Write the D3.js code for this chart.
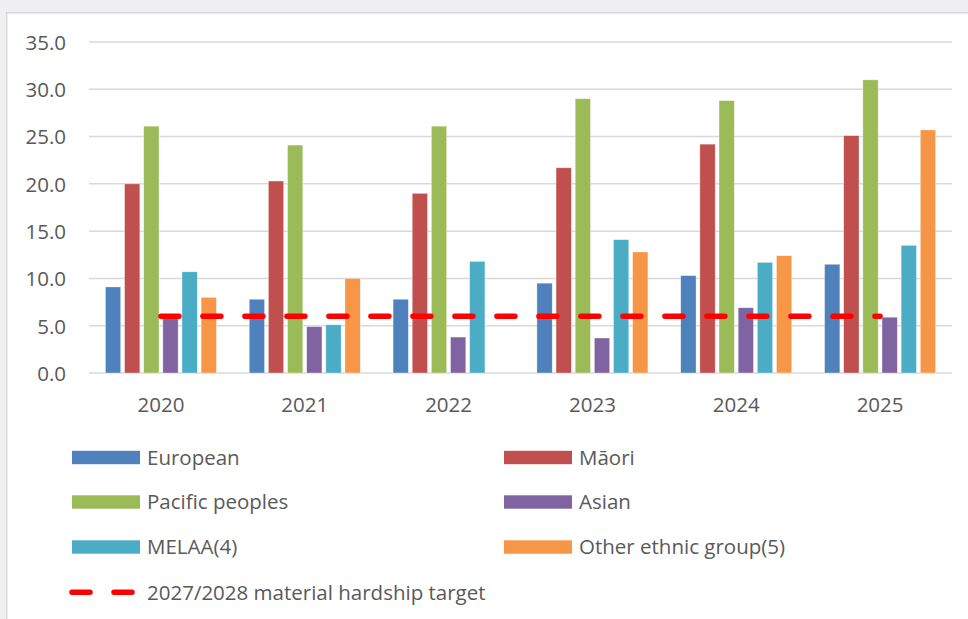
<!DOCTYPE html>
<html>
<head>
<meta charset="utf-8">
<script src="https://cdn.jsdelivr.net/npm/d3@7"></script>
<style>
  html, body { margin: 0; padding: 0; background: #f0f0f2; }
  svg { display: block; font-family: "Open Sans", sans-serif; }
</style>
</head>
<body>
<svg id="chart" width="968" height="619"></svg>
<script>
// Material hardship rate by ethnic group, 2020–2025
const years = ["2020", "2021", "2022", "2023", "2024", "2025"];
const seriesNames = ["European", "Māori", "Pacific peoples", "Asian", "MELAA(4)", "Other ethnic group(5)"];
const european = [9.1, 7.8, 7.8, 9.5, 10.3, 11.5];
const maori    = [20.0, 20.3, 19.0, 21.7, 24.2, 25.1];
const pacific  = [26.1, 24.1, 26.1, 29.0, 28.8, 31.0];
const asian    = [5.9, 4.9, 3.8, 3.7, 6.9, 5.9];
const melaa    = [10.7, 5.1, 11.8, 14.1, 11.7, 13.5];
const other    = [8.0, 10.0, null, 12.8, 12.4, 25.7];
const targetValue = 6.0;
const targetLabel = "2027/2028 material hardship target";
const yTicks = [0, 5, 10, 15, 20, 25, 30, 35];

const seriesValues = [european, maori, pacific, asian, melaa, other];
const colors = ["#4f81bd", "#c0504d", "#9bbb59", "#8064a2", "#4bacc6", "#f79646"];
const textColor = "#595959";
const gridColor = "#d9d9d9";

const svg = d3.select("#chart");

// white chart panel
svg.append("rect")
  .attr("x", 6.75).attr("y", 12.75)
  .attr("width", 1000).attr("height", 700)
  .attr("fill", "#ffffff")
  .attr("stroke", "#d9d9d9").attr("stroke-width", 1.5);

const plot = { left: 89, right: 952, top: 42, bottom: 373 };

const y = d3.scaleLinear().domain([0, 35]).range([plot.bottom, plot.top]);
const x0 = d3.scaleBand().domain(years).range([plot.left, plot.right])
  .paddingInner(0.228).paddingOuter(0.114);
const x1 = d3.scaleBand().domain(d3.range(seriesNames.length))
  .range([0, x0.bandwidth()]).paddingInner(0.2).paddingOuter(0);

// gridlines
svg.append("g").selectAll("line").data(yTicks).join("line")
  .attr("x1", plot.left).attr("x2", plot.right)
  .attr("y1", d => y(d)).attr("y2", d => y(d))
  .attr("stroke", gridColor).attr("stroke-width", 1.5);

// y axis labels
const yAxis = d3.axisLeft(y).tickValues(yTicks).tickFormat(d3.format(".1f")).tickSize(0).tickPadding(0);
const yg = svg.append("g").attr("transform", "translate(66,0)").call(yAxis);
yg.select(".domain").remove();
yg.selectAll("text")
  .attr("fill", textColor).attr("font-size", "20.5px")
  .attr("font-family", "Open Sans, sans-serif").attr("dy", "0.36em");

// x axis labels
const xAxis = d3.axisBottom(x0).tickSize(0).tickPadding(0);
const xg = svg.append("g").attr("transform", `translate(0,${plot.bottom})`).call(xAxis);
xg.select(".domain").remove();
xg.selectAll("text")
  .attr("fill", textColor).attr("font-size", "20.5px")
  .attr("font-family", "Open Sans, sans-serif")
  .attr("dy", null).attr("y", 38.7);

// bars
const barData = [];
years.forEach((yr, i) => {
  seriesValues.forEach((vals, s) => {
    if (vals[i] != null) barData.push({ year: yr, s, v: vals[i] });
  });
});
svg.append("g").selectAll("rect").data(barData).join("rect")
  .attr("x", d => x0(d.year) + x1(d.s))
  .attr("y", d => y(d.v))
  .attr("width", x1.bandwidth())
  .attr("height", d => y(0) - y(d.v))
  .attr("fill", d => colors[d.s])
  .attr("stroke", "#ffffff").attr("stroke-width", 0.6).attr("stroke-opacity", 0.6);

// target line across category centres
const cx = yr => x0(yr) + x0.bandwidth() / 2;
svg.append("line")
  .attr("x1", cx(years[0])).attr("x2", cx(years[years.length - 1]))
  .attr("y1", y(targetValue)).attr("y2", y(targetValue))
  .attr("stroke", "#ff0000").attr("stroke-width", 5.5)
  .attr("stroke-linecap", "round").attr("stroke-dasharray", "18 24");

// legend
const legendItems = seriesNames.map((name, i) => ({
  name, color: colors[i],
  col: i % 2, row: Math.floor(i / 2)
}));
const colX = [72, 504];
const rowY = [457.5, 502, 547, 592.3];
const lg = svg.append("g");
const li = lg.selectAll("g").data(legendItems).join("g")
  .attr("transform", d => `translate(${colX[d.col]},${rowY[d.row]})`);
li.append("rect")
  .attr("x", 0).attr("y", -6.7).attr("width", 68).attr("height", 13.4)
  .attr("fill", d => d.color);
li.append("text")
  .attr("x", 75).attr("dy", "0.36em")
  .attr("fill", textColor).attr("font-size", "20.5px")
  .text(d => d.name);

const tg = lg.append("g").attr("transform", `translate(0,${rowY[3]})`);
tg.append("line")
  .attr("x1", 72).attr("x2", 132).attr("y1", 0).attr("y2", 0)
  .attr("stroke", "#ff0000").attr("stroke-width", 5.5)
  .attr("stroke-linecap", "round").attr("stroke-dasharray", "18 24");
tg.append("text")
  .attr("x", 147).attr("dy", "0.36em")
  .attr("fill", textColor).attr("font-size", "20.5px")
  .text(targetLabel);
</script>
</body>
</html>
